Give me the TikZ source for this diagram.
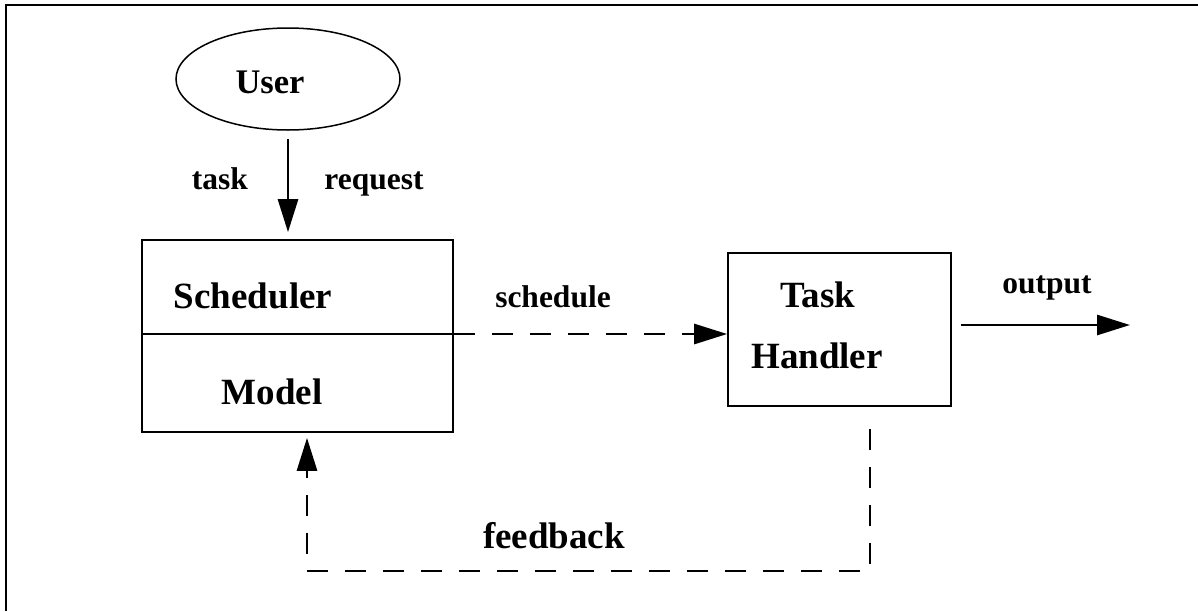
\documentclass[tikz,border=0pt]{standalone}
\usepackage{fontspec}
\setmainfont{Liberation Serif}
\usetikzlibrary{arrows.meta,shapes.geometric}
\begin{document}
\begin{tikzpicture}[x=1pt,y=-1pt,
  box/.style={draw,line width=1.7pt,rectangle,inner sep=0pt},
  big/.style={font=\fontsize{37}{40}\selectfont\bfseries,anchor=base,inner sep=0pt},
  small/.style={font=\fontsize{31.5}{34}\selectfont\bfseries,anchor=base,inner sep=0pt},
  arr/.style={line width=2.8pt,-{Triangle[length=33pt,width=20pt]}},
  darr/.style={line width=2.8pt,dash pattern=on 21pt off 17pt,-{Triangle[length=33pt,width=20pt]}},
  frame/.style={line width=2.2pt}]
\useasboundingbox (0,0) rectangle (1198,611);
% frame (top and left only)
\coordinate (ftl) at (6,5);
\coordinate (ftr) at (1198,5);
\coordinate (fbl) at (6,611);
\draw[frame] (fbl) -- (ftl) -- (ftr);
% nodes
\node[draw,ellipse,line width=1.5pt,minimum width=224pt,minimum height=102pt,inner sep=0pt] (user) at (288,79) {};
\node[big,font=\fontsize{34.5}{38}\selectfont\bfseries] (usertext) at (270,93) {User};
\node[box,minimum width=311pt,minimum height=192pt] (sm) at (297.5,336) {};
\draw[line width=2.5pt] ([yshift=2pt]sm.west) -- ([yshift=2pt]sm.east);
\node[big] (schedtext) at (253,308) {Scheduler};
\node[big] (modeltext) at (272,404) {Model};
\node[box,minimum width=223pt,minimum height=153pt] (th) at (839.5,329.5) {};
\node[big] (tasktext) at (818,307) {Task};
\node[big] (handlertext) at (817,368) {Handler};
% labels
\node[small] (tasklbl) at (220,189) {task};
\node[small] (reqlbl) at (374,189) {request};
\node[small] (schedlbl) at (553,307) {schedule};
\node[small] (outlbl) at (1047,293) {output};
\node[big] (fblbl) at (554,548) {feedback};
% connectors
\draw[arr] ([yshift=-8pt]user.south) -- ([yshift=7pt]sm.north -| user.south);
\draw[darr] ([yshift=2pt]sm.east) -- ([yshift=2pt]sm.east -| th.west);
\coordinate (outstart) at ([xshift=9pt,yshift=4.5pt]th.east);
\coordinate (outend) at (1130,325);
\draw[arr] (outstart) -- (outend);
\coordinate (fb) at (0,571);
\draw[darr] ([xshift=30.5pt,yshift=-22pt]th.south) |- ([xshift=9.5pt]sm.south |- fb) -- ([xshift=9.5pt,yshift=-5pt]sm.south);
\end{tikzpicture}
\end{document}
